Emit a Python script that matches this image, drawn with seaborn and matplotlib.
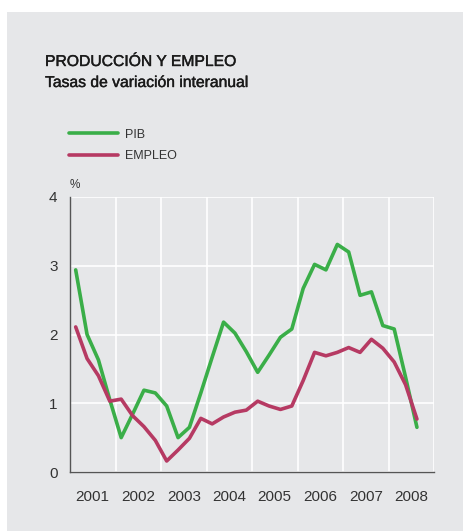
import numpy as np
import pandas as pd
import matplotlib
matplotlib.use("Agg")
import matplotlib.pyplot as plt
import matplotlib.patheffects as pe
from matplotlib.patches import Rectangle
import seaborn as sns

# Quarterly data, 2001Q1 - 2008Q3 (year-on-year rates, %)
years = list(range(2001, 2009))
quarters = [(y, q) for y in years for q in range(1, 5)][:31]
pib = [2.94, 2.00, 1.63, 1.05,
       0.50, 0.84, 1.19, 1.15,
       0.96, 0.50, 0.65, 1.15,
       1.67, 2.18, 2.02, 1.75,
       1.45, 1.70, 1.96, 2.08,
       2.67, 3.02, 2.94, 3.31,
       3.20, 2.57, 2.62, 2.13,
       2.08, 1.38, 0.65]
empleo = [2.11, 1.65, 1.40, 1.03,
          1.06, 0.82, 0.66, 0.46,
          0.16, 0.32, 0.49, 0.78,
          0.70, 0.80, 0.87, 0.90,
          1.03, 0.96, 0.91, 0.96,
          1.33, 1.74, 1.69, 1.74,
          1.81, 1.74, 1.93, 1.80,
          1.60, 1.27, 0.77]
series_names = ["PIB", "EMPLEO"]
colors = {"PIB": "#3aae48", "EMPLEO": "#b63a63"}

t = [y + (q - 0.5) / 4 for y, q in quarters]
df = pd.DataFrame({
    "t": t * 2,
    "value": pib + empleo,
    "serie": ["PIB"] * len(pib) + ["EMPLEO"] * len(empleo),
})

bg = "#e6e7e9"
txt = "#333333"
title_col = "#1a1a1a"

sns.set_theme(style="white")
plt.rcParams["font.family"] = ["Liberation Sans", "DejaVu Sans"]

fig = plt.figure(figsize=(4.64, 5.31), dpi=100)
fig.patch.set_facecolor("white")
fig.patches.append(Rectangle((7 / 464, 0), 1 - 7 / 464, 1 - 12 / 531,
                             transform=fig.transFigure, facecolor=bg,
                             edgecolor="none", zorder=-10))

ax = fig.add_axes([70 / 464, 1 - 472 / 531, 364 / 464, 275 / 531])
ax.set_facecolor(bg)

sns.lineplot(data=df, x="t", y="value", hue="serie", hue_order=series_names,
             palette=colors, linewidth=2.6, ax=ax, legend=False)

ax.set_xlim(2001, 2009)
ax.set_ylim(0, 4)
ax.set_xticks(range(2001, 2010))
ax.set_xticks([y + 0.5 for y in years], minor=True)
ax.set_xticklabels([])
ax.set_xticklabels([str(y) for y in years], minor=True)
ax.set_yticks([0, 1, 2, 3, 4])
ax.set_yticklabels(["0", "1", "2", "3", "4"])
ax.tick_params(axis="both", which="both", length=0, colors=txt, labelsize=11)
ax.tick_params(axis="x", which="minor", pad=13)
ax.tick_params(axis="y", pad=9)
ax.grid(True, which="major", color="white", linewidth=1.2)
ax.set_axisbelow(True)
ax.set_xlabel("")
ax.set_ylabel("")
for s in ["top", "right"]:
    ax.spines[s].set_visible(False)
for s in ["left", "bottom"]:
    ax.spines[s].set_color("#555555")
    ax.spines[s].set_linewidth(1.0)

# legend
handles = [plt.Line2D([], [], color=colors[n], linewidth=2.6) for n in series_names]
fig.legend(handles, series_names, loc="upper left",
           bbox_to_anchor=(69 / 464, 1 - 128.5 / 531), frameon=False,
           fontsize=9, handlelength=3.9, handletextpad=0.6, labelspacing=0.75,
           borderpad=0, borderaxespad=0, labelcolor=txt)

fig.text(70 / 464, 1 - 188 / 531, "%", fontsize=8.5, color=txt, va="baseline")
medium = [pe.withStroke(linewidth=0.3, foreground=title_col)]
fig.text(45 / 464, 1 - 66 / 531, "PRODUCCIÓN Y EMPLEO", fontsize=11.3,
         color=title_col, va="baseline", path_effects=medium)
fig.text(45 / 464, 1 - 87 / 531, "Tasas de variación interanual", fontsize=11.3,
         color=title_col, va="baseline", path_effects=medium)

fig.savefig("out.png", dpi=100, facecolor=fig.get_facecolor())
